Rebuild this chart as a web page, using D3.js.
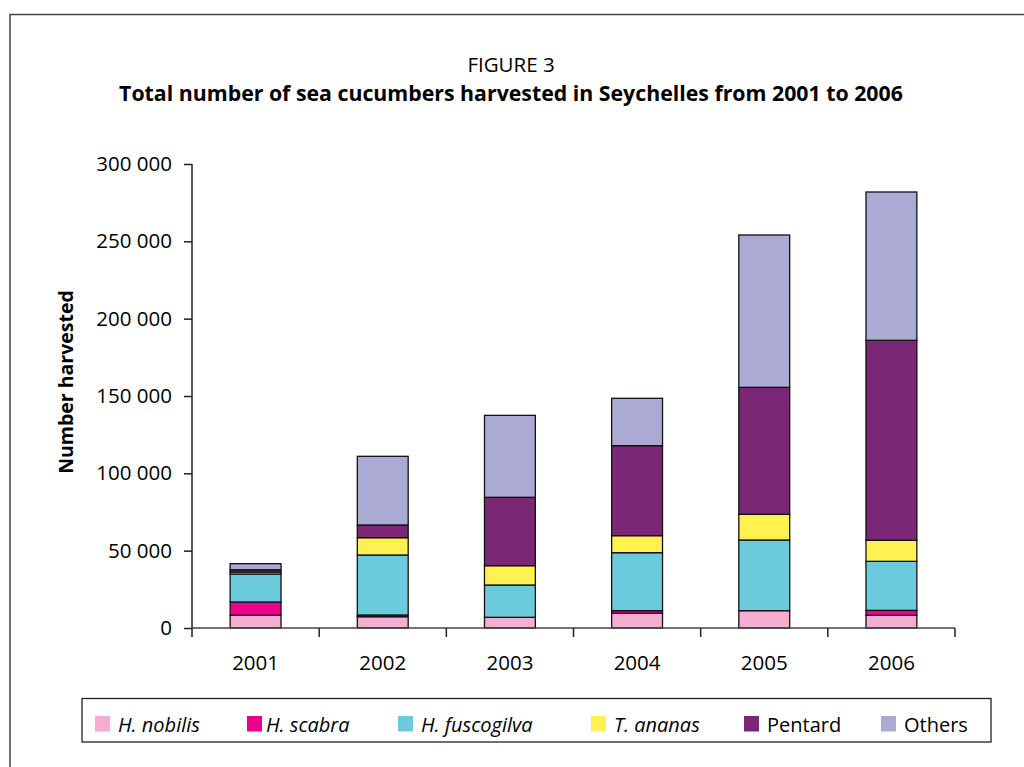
<!DOCTYPE html>
<html>
<head>
<meta charset="utf-8">
<script src="https://cdn.jsdelivr.net/npm/d3@7"></script>
<style>
  html, body { margin: 0; padding: 0; background: #fff; }
  svg { display: block; font-family: "Open Sans", "Noto Sans", sans-serif; }
</style>
</head>
<body>
<div class="vis-barchart"></div>
<script>
// data
const years = ['2001', '2002', '2003', '2004', '2005', '2006'];
const species = ['H. nobilis', 'H. scabra', 'H. fuscogilva', 'T. ananas', 'Pentard', 'Others'];
const nobilis    = [8200, 7300, 6900, 9500, 11200, 8200];
const scabra     = [8600, 1100, 0, 1700, 0, 3200];
const fuscogilva = [18100, 38800, 20900, 37500, 45700, 31700];
const ananas     = [1300, 11200, 12500, 11000, 16600, 13600];
const pentard    = [1500, 8200, 44200, 58200, 82100, 129300];
const others     = [3900, 44400, 53000, 30600, 98500, 95900];
const yTicks = [0, 50000, 100000, 150000, 200000, 250000, 300000];
const colors = ['#f5aecf', '#ec008c', '#6bcbdd', '#fff250', '#7b2776', '#aaaad4'];
const italicNames = [true, true, true, true, false, false];

const series = [nobilis, scabra, fuscogilva, ananas, pentard, others];

const draw = () => {
    const width = 1024, height = 767;
    const margin = {top: 164, right: 69, bottom: 139, left: 192};

    const rows = years.map((y, i) => {
        const r = {year: y};
        species.forEach((s, k) => { r[s] = series[k][i]; });
        return r;
    });

    const svg = d3.select('.vis-barchart').append('svg')
        .attr('width', width)
        .attr('height', height);

    // outer frame (runs off the page right and bottom)
    svg.append('path')
        .attr('d', 'M10,' + (height + 5) + 'V14.5H' + (width + 5))
        .attr('fill', 'none')
        .attr('stroke', '#444')
        .attr('stroke-width', 1.5);

    svg.append('text')
        .attr('x', 511).attr('y', 72)
        .attr('text-anchor', 'middle')
        .attr('font-size', 20.5)
        .attr('fill', '#000')
        .text('FIGURE 3');
    svg.append('text')
        .attr('x', 511).attr('y', 101)
        .attr('text-anchor', 'middle')
        .attr('font-size', 21.3)
        .attr('font-weight', 'bold')
        .text('Total number of sea cucumbers harvested in Seychelles from 2001 to 2006');

    const x = d3.scaleBand()
        .domain(years)
        .range([margin.left, width - margin.right])
        .paddingInner(0.6)
        .paddingOuter(0.3);
    const xEdge = d3.scaleLinear()
        .domain([0, years.length])
        .range([margin.left, width - margin.right]);
    const y = d3.scaleLinear()
        .domain([0, 300000])
        .range([height - margin.bottom, margin.top]);

    const stack = d3.stack().keys(species);
    const stacked = stack(rows);

    svg.append('g')
        .selectAll('g')
        .data(stacked)
        .enter().append('g')
        .attr('fill', (d, i) => colors[i])
        .selectAll('rect')
        .data(d => d.filter(p => p[1] > p[0]))
        .enter().append('rect')
        .attr('x', d => x(d.data.year))
        .attr('width', x.bandwidth())
        .attr('y', d => y(d[1]))
        .attr('height', d => y(d[0]) - y(d[1]))
        .attr('stroke', '#111')
        .attr('stroke-width', 1.3);

    // y axis
    const yAxis = svg.append('g')
        .attr('transform', 'translate(' + margin.left + ',0)')
        .call(d3.axisLeft(y)
            .tickValues(yTicks)
            .tickSize(8)
            .tickPadding(12)
            .tickFormat(d => d3.format(',')(d).replace(/,/g, ' ')));
    yAxis.select('.domain').attr('stroke', '#222').attr('stroke-width', 1.5)
        .attr('d', 'M0,' + y(300000) + 'V' + y(0));
    yAxis.selectAll('.tick line').attr('stroke', '#222').attr('stroke-width', 1.5);
    yAxis.selectAll('.tick text')
        .attr('font-size', 20.5)
        .attr('font-family', '"Open Sans", sans-serif')
        .attr('fill', '#000');

    // x axis: ticks at the category edges
    const xAxis = svg.append('g')
        .attr('transform', 'translate(0,' + y(0) + ')');
    xAxis.append('line')
        .attr('x1', xEdge(0)).attr('x2', xEdge(years.length))
        .attr('stroke', '#444').attr('stroke-width', 1.5);
    xAxis.selectAll('.edge')
        .data(d3.range(years.length + 1))
        .enter().append('line')
        .attr('class', 'edge')
        .attr('x1', d => xEdge(d)).attr('x2', d => xEdge(d))
        .attr('y1', 0).attr('y2', 9)
        .attr('stroke', '#222').attr('stroke-width', 1.5);
    xAxis.selectAll('.lbl')
        .data(years)
        .enter().append('text')
        .attr('class', 'lbl')
        .attr('x', d => x(d) + x.bandwidth() / 2)
        .attr('y', 42)
        .attr('text-anchor', 'middle')
        .attr('font-size', 20.5)
        .attr('fill', '#000')
        .text(d => d);

    svg.append('text')
        .attr('transform', 'translate(73,382) rotate(-90)')
        .attr('text-anchor', 'middle')
        .attr('font-size', 19.5)
        .attr('font-weight', 'bold')
        .text('Number harvested');

    // legend
    const legend = svg.append('g');
    legend.append('rect')
        .attr('x', 82).attr('y', 698.5)
        .attr('width', 909).attr('height', 43.5)
        .attr('fill', 'none')
        .attr('stroke', '#222')
        .attr('stroke-width', 1.3);
    const legendX = [95, 247, 398, 591, 744, 881];
    const items = legend.selectAll('.item')
        .data(species)
        .enter().append('g')
        .attr('class', 'item')
        .attr('transform', (d, i) => 'translate(' + legendX[i] + ',716)');
    items.append('rect')
        .attr('width', 15).attr('height', 15.5)
        .attr('fill', (d, i) => colors[i]);
    items.append('text')
        .attr('x', (d, i) => i === 1 ? 19 : 23)
        .attr('y', 15.5)
        .attr('font-size', 20)
        .attr('font-style', (d, i) => italicNames[i] ? 'italic' : 'normal')
        .attr('fill', '#000')
        .text(d => d);
};

draw();
</script>
</body>
</html>
